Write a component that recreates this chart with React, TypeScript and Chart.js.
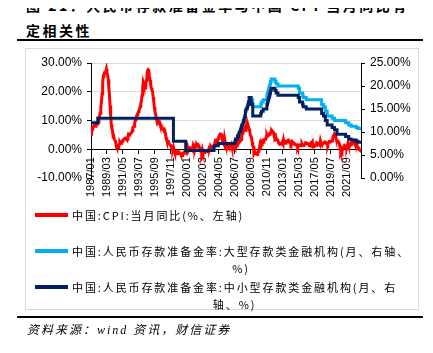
import { useEffect, useRef } from "react";
import { Chart, registerables } from "chart.js";

Chart.register(...registerables);

const startMonth = "1987/01";
const endMonth = "2023/08";

const tickLabels = [
  "1987/01", "1989/03", "1991/05", "1993/07", "1995/09", "1997/11", "2000/01",
  "2002/03", "2004/05", "2006/07", "2008/09", "2010/11", "2013/01", "2015/03",
  "2017/05", "2019/07", "2021/09",
];

// China CPI YoY (%), monthly from 1987/01 to 2023/08 (left axis)
const cpiValues = [
  5.2, 6.0, 7.0, 7.8, 8.0, 8.1, 8.2, 8.0, 8.3, 8.6, 8.8, 9.1,
  9.5, 11.2, 11.6, 12.6, 14.7, 16.5, 19.3, 23.2, 25.4, 26.1, 26.7, 26.7,
  27.0, 27.9, 26.3, 25.8, 24.3, 21.5, 19.0, 15.2, 11.4, 8.7, 7.0, 6.4,
  4.3, 4.4, 3.4, 3.2, 2.6, 1.1, 0.6, 0.6, 0.6, 1.1, 1.8, 2.4,
  2.0, 2.1, 2.6, 2.9, 3.1, 3.4, 3.6, 3.6, 3.9, 3.8, 3.5, 3.5,
  4.0, 5.3, 5.2, 5.1, 5.3, 5.3, 5.8, 6.4, 7.5, 7.9, 8.0, 8.8,
  10.3, 10.5, 11.5, 12.0, 12.5, 13.0, 13.5, 14.0, 15.0, 16.0, 16.7, 18.8,
  21.1, 23.2, 22.4, 21.7, 21.3, 22.6, 24.0, 25.8, 27.3, 27.7, 27.5, 25.5,
  24.1, 22.4, 21.3, 20.7, 20.3, 18.2, 16.7, 14.5, 13.2, 12.1, 11.2, 10.1,
  9.0, 9.3, 9.8, 9.7, 8.9, 8.6, 8.3, 8.1, 7.4, 7.0, 6.9, 7.0,
  5.9, 5.6, 4.0, 3.2, 2.8, 2.8, 2.7, 1.9, 1.8, 1.5, 1.1, 0.4,
  0.3, -0.1, 0.7, -0.3, -1.0, -1.3, -1.4, -1.4, -1.5, -1.1, -1.2, -1.0,
  -1.2, -1.3, -1.8, -2.2, -2.2, -2.1, -1.4, -1.3, -0.8, -0.6, -0.9, -1.0,
  -0.2, 0.7, -0.2, -0.3, 0.1, 0.5, 0.5, 0.3, 0.0, 0.0, 1.3, 1.5,
  1.2, 0.0, 0.8, 1.6, 1.7, 1.4, 1.5, 1.0, -0.1, 0.2, -0.3, -0.3,
  -1.0, 0.0, -0.8, -1.3, -1.1, -0.8, -0.9, -0.7, -0.7, -0.8, -0.7, -0.4,
  0.4, 0.2, 0.9, 1.0, 0.7, 0.3, 0.5, 0.9, 1.1, 1.8, 3.0, 3.2,
  3.2, 2.1, 3.0, 3.8, 4.4, 5.0, 5.3, 5.3, 5.2, 4.3, 2.8, 2.4,
  1.9, 3.9, 2.7, 1.8, 1.8, 1.6, 1.8, 1.3, 0.9, 1.2, 1.3, 1.6,
  1.9, 0.9, 0.8, 1.2, 1.4, 1.5, 1.0, 1.3, 1.5, 1.4, 1.9, 2.8,
  2.2, 2.7, 3.3, 3.0, 3.4, 4.4, 5.6, 6.5, 6.2, 6.5, 6.9, 6.5,
  7.1, 8.7, 8.3, 8.5, 7.7, 7.1, 6.3, 4.9, 4.6, 4.0, 2.4, 1.2,
  1.0, -1.6, -1.2, -1.5, -1.4, -1.7, -1.8, -1.2, -0.8, -0.5, 0.6, 1.9,
  1.5, 2.7, 2.4, 2.8, 3.1, 2.9, 3.3, 3.5, 3.6, 4.4, 5.1, 4.6,
  4.9, 4.9, 5.4, 5.3, 5.5, 6.4, 6.5, 6.2, 6.1, 5.5, 4.2, 4.1,
  4.5, 3.2, 3.6, 3.4, 3.0, 2.2, 1.8, 2.0, 1.9, 1.7, 2.0, 2.5,
  2.0, 3.2, 2.1, 2.4, 2.1, 2.7, 2.7, 2.6, 3.1, 3.2, 3.0, 2.5,
  2.5, 2.0, 2.4, 1.8, 2.5, 2.3, 2.3, 2.0, 1.6, 1.6, 1.4, 1.5,
  0.8, 1.4, 1.4, 1.5, 1.2, 1.4, 1.6, 2.0, 1.6, 1.3, 1.5, 1.6,
  1.8, 2.3, 2.3, 2.3, 2.0, 1.9, 1.8, 1.3, 1.9, 2.1, 2.3, 2.1,
  2.5, 0.8, 0.9, 1.2, 1.5, 1.5, 1.4, 1.8, 1.6, 1.9, 1.7, 1.8,
  1.5, 2.9, 2.1, 1.8, 1.8, 1.9, 2.1, 2.3, 2.5, 2.5, 2.2, 1.9,
  1.7, 1.5, 2.3, 2.5, 2.7, 2.7, 2.8, 2.8, 3.0, 3.8, 4.5, 4.5,
  5.4, 5.2, 4.3, 3.3, 2.4, 2.5, 2.7, 2.4, 1.7, 0.5, -0.5, 0.2,
  -0.3, -0.2, 0.4, 0.9, 1.3, 1.1, 1.0, 0.8, 0.7, 1.5, 2.3, 1.5,
  0.9, 0.9, 1.5, 2.1, 2.1, 2.5, 2.7, 2.5, 2.8, 2.1, 1.6, 1.8,
  2.1, 1.0, 0.7, 0.1, 0.2, 0.0, -0.3, 0.1,
];

// Reserve requirement ratio, large institutions (%), change dates (right axis)
const largeDates = [
  "2008/09", "2008/10", "2008/12", "2010/01", "2010/02", "2010/05", "2010/11",
  "2010/12", "2011/01", "2011/02", "2011/03", "2011/04", "2011/05", "2011/06",
  "2011/12", "2012/02", "2012/05", "2015/02", "2015/04", "2015/09", "2015/10",
  "2016/03", "2018/04", "2018/07", "2018/10", "2019/01", "2019/09", "2020/01",
  "2021/07", "2021/12", "2022/04", "2022/12", "2023/03", "2023/08",
];
const largeValues = [
  17.5, 17, 15.5, 16, 16.5, 17, 18,
  18.5, 19, 19.5, 20, 20.5, 21, 21.5,
  21, 20.5, 20, 19.5, 18.5, 18, 17.5,
  17, 16, 15.5, 14.5, 13.5, 13, 12.5,
  12, 11.5, 11.25, 11, 10.75, 10.75,
];

// Reserve requirement ratio, small & medium institutions (%), change dates (right axis)
const smallDates = [
  "1987/01", "1987/12", "1998/03", "1999/11", "2003/09", "2004/04", "2006/07",
  "2006/08", "2006/11", "2007/01", "2007/02", "2007/04", "2007/05", "2007/06",
  "2007/08", "2007/09", "2007/10", "2007/11", "2007/12", "2008/01", "2008/03",
  "2008/04", "2008/05", "2008/06", "2008/09", "2008/10", "2008/12", "2010/01",
  "2010/02", "2010/05", "2010/11", "2010/12", "2011/01", "2011/02", "2011/03",
  "2011/04", "2011/05", "2011/06", "2011/12", "2012/02", "2012/05", "2015/02",
  "2015/04", "2015/09", "2015/10", "2016/03", "2018/04", "2018/07", "2018/10",
  "2019/01", "2019/09", "2020/01", "2020/05", "2021/07", "2021/12", "2022/04",
  "2022/12", "2023/03", "2023/08",
];
const smallValues = [
  12, 13, 8, 6, 7, 7.5, 8,
  8.5, 9, 9.5, 10, 10.5, 11, 11.5,
  12, 12.5, 13, 13.5, 14.5, 15, 15.5,
  16, 16.5, 17.5, 16.5, 16, 13.5, 14,
  14.5, 15, 16, 16.5, 17, 17.5, 18,
  18.5, 19, 19.5, 19, 18.5, 18, 17.5,
  16.5, 16, 15.5, 15, 14, 13.5, 12.5,
  11.5, 11, 10.5, 9.5, 9, 8.5, 8.25,
  8, 7.75, 7.75,
];

const leftMin = -10;
const leftMax = 30;
const leftStep = 10;
const rightMin = 0;
const rightMax = 25;
const rightStep = 5;

const legendItems = [
  { color: "#FF0000", lines: ["中国:CPI:当月同比(%、左轴)"] },
  { color: "#00B0F0", lines: ["中国:人民币存款准备金率:大型存款类金融机构(月、右轴、", "%)"] },
  { color: "#002060", lines: ["中国:人民币存款准备金率:中小型存款类金融机构(月、右", "轴、%)"] },
];

function monthIndex(s: string): number {
  const [y, m] = s.split("/").map(Number);
  const [y0, m0] = startMonth.split("/").map(Number);
  return (y - y0) * 12 + (m - m0);
}

export default function App() {
  const ref = useRef<HTMLCanvasElement | null>(null);

  useEffect(() => {
    if (!ref.current) return;
    const labelMap = new Map<number, string>();
    tickLabels.forEach((l) => labelMap.set(monthIndex(l), l));

    const cpiData = cpiValues.map((v, i) => ({ x: i, y: v }));
    const largeData = largeDates.map((d, i) => ({ x: monthIndex(d), y: largeValues[i] }));
    const smallData = smallDates.map((d, i) => ({ x: monthIndex(d), y: smallValues[i] }));

    const chart = new Chart(ref.current, {
      type: "line",
      data: {
        datasets: [
          {
            label: legendItems[2].lines.join(""),
            data: smallData,
            yAxisID: "y1",
            borderColor: "#002060",
            borderWidth: 3,
            pointRadius: 0,
            stepped: "before",
          },
          {
            label: legendItems[1].lines.join(""),
            data: largeData,
            yAxisID: "y1",
            borderColor: "#00B0F0",
            borderWidth: 3,
            pointRadius: 0,
            stepped: "before",
          },
          {
            label: legendItems[0].lines.join(""),
            data: cpiData,
            yAxisID: "y",
            borderColor: "#FF0000",
            borderWidth: 3,
            pointRadius: 0,
            tension: 0,
          },
        ],
      },
      options: {
        animation: false,
        responsive: false,
        devicePixelRatio: 1,
        layout: { padding: { top: 14, bottom: 32, left: 0, right: 0 } },
        plugins: { legend: { display: false }, tooltip: { enabled: false } },
        scales: {
          x: {
            type: "linear",
            min: monthIndex(startMonth),
            max: monthIndex(endMonth),
            position: { y: 0 } as any,
            afterBuildTicks: (scale: any) => {
              scale.ticks = tickLabels.map((l) => ({ value: monthIndex(l) }));
            },
            ticks: {
              autoSkip: false,
              maxRotation: 90,
              minRotation: 90,
              padding: 4,
              color: "#000",
              font: { family: "Liberation Sans", size: 11 },
              callback: (v: any) => labelMap.get(Number(v)) ?? "",
            },
            grid: {
              drawOnChartArea: false,
              drawTicks: true,
              tickLength: 4,
              tickColor: "#000",
            },
            border: { display: true, color: "#000", width: 1 },
          },
          y: {
            type: "linear",
            position: "left",
            min: leftMin,
            max: leftMax,
            afterFit: (scale: any) => {
              scale.width = 65;
            },
            ticks: {
              stepSize: leftStep,
              padding: 5,
              color: "#000",
              font: { family: "Liberation Sans", size: 12 },
              callback: (v: any) => Number(v).toFixed(2) + "%",
            },
            grid: {
              color: (ctx: any) =>
                ctx.tick && ctx.tick.value > 0 ? "#D9D9D9" : "rgba(0,0,0,0)",
              tickColor: "#000",
              tickLength: 4,
              lineWidth: 1,
            },
            border: { display: true, color: "#000", width: 1 },
          },
          y1: {
            type: "linear",
            position: "right",
            min: rightMin,
            max: rightMax,
            afterFit: (scale: any) => {
              scale.width = 56;
            },
            ticks: {
              stepSize: rightStep,
              padding: 5,
              color: "#000",
              font: { family: "Liberation Sans", size: 12 },
              callback: (v: any) => Number(v).toFixed(2) + "%",
            },
            grid: {
              drawOnChartArea: false,
              tickColor: "#000",
              tickLength: 4,
            },
            border: { display: true, color: "#000", width: 1 },
          },
        },
      },
    });
    return () => chart.destroy();
  }, []);

  const cjk = '"Noto Sans CJK SC", sans-serif';

  return (
    <div
      style={{
        position: "relative",
        width: 433,
        height: 353,
        marginTop: -8,
        marginLeft: -8,
        overflow: "hidden",
        background: "#fff",
        fontFamily: cjk,
        color: "#000",
      }}
    >
      <div
        style={{
          position: "absolute",
          left: 26,
          top: -5,
          fontSize: 14,
          fontWeight: "bold",
          lineHeight: "20px",
          letterSpacing: 2.5,
          whiteSpace: "nowrap",
        }}
      >
        图 21：人民币存款准备金率与中国 CPI 当月同比有一
      </div>
      <div
        style={{
          position: "absolute",
          left: 26,
          top: 20,
          fontSize: 14,
          fontWeight: "bold",
          lineHeight: "20px",
          letterSpacing: 2.5,
          whiteSpace: "nowrap",
        }}
      >
        定相关性
      </div>
      <div style={{ position: "absolute", left: 17, top: 39, width: 406, height: 2, background: "#000" }} />
      <div
        style={{
          position: "absolute",
          left: 25,
          top: 48,
          width: 394,
          height: 262,
          boxSizing: "border-box",
          border: "1px solid #D9D9D9",
        }}
      />
      <canvas
        ref={ref}
        width={391}
        height={161}
        style={{ position: "absolute", left: 26, top: 49, width: 391, height: 161 }}
      />
      {legendItems.map((item, i) => (
        <div key={i}>
          <div
            style={{
              position: "absolute",
              left: 35,
              top: 213 + i * 36,
              width: 33,
              height: 4,
              background: item.color,
            }}
          />
          <div
            style={{
              position: "absolute",
              left: 72,
              top: 206.5 + i * 36,
              display: "inline-block",
              textAlign: "center",
              fontSize: 11,
              lineHeight: "17px",
              letterSpacing: 1.9,
              whiteSpace: "nowrap",
            }}
          >
            {item.lines.map((l, j) => (
              <div key={j}>{l}</div>
            ))}
          </div>
        </div>
      ))}
      <div style={{ position: "absolute", left: 17, top: 316, width: 406, height: 2, background: "#000" }} />
      <div
        style={{
          position: "absolute",
          left: 27,
          top: 322,
          fontSize: 12,
          lineHeight: "16px",
          fontStyle: "italic",
          letterSpacing: 2,
          fontFamily: '"Liberation Serif", "Noto Sans CJK SC", serif',
          whiteSpace: "nowrap",
        }}
      >
        资料来源：wind 资讯，财信证券
      </div>
    </div>
  );
}
